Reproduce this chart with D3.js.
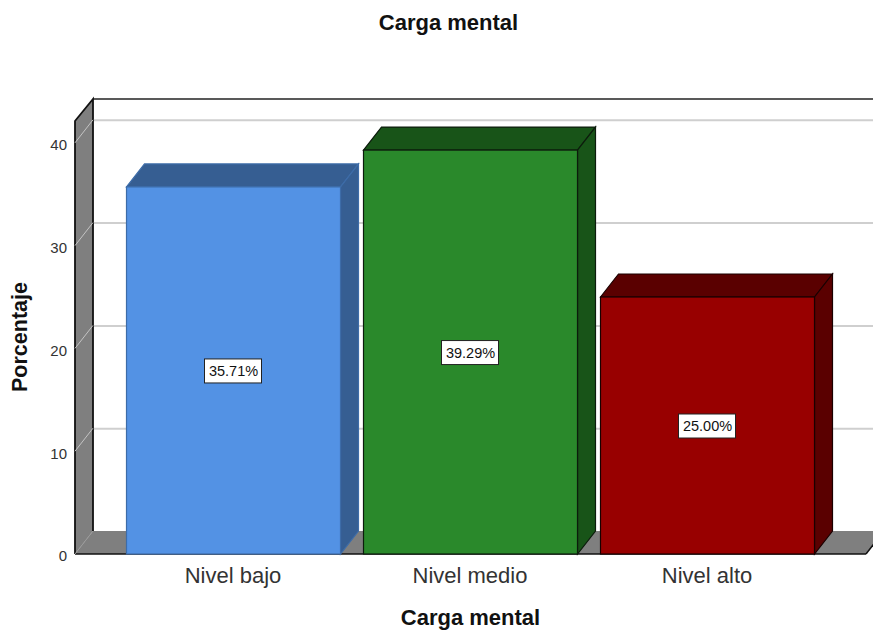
<!DOCTYPE html>
<html>
<head>
<meta charset="utf-8">
<script src="https://cdn.jsdelivr.net/npm/d3@7"></script>
<style>
  html, body { margin: 0; padding: 0; background: #fff; }
  svg { display: block; font-family: "Liberation Sans", Arial, sans-serif; }
</style>
</head>
<body>
<svg id="chart" width="873" height="630"></svg>
<script>
// Distribution of mental workload levels
const categories = ["Nivel bajo", "Nivel medio", "Nivel alto"];
const percentages = [35.71, 39.29, 25.00];
const frontColors = ["#5392e4", "#2a892b", "#980000"];
const sideColors = ["#365e92", "#185418", "#5a0000"];
const edgeColors = ["#3d6ca8", "#0c1c0c", "#1a0000"];
const yTicks = [0, 10, 20, 30, 40];
const chartTitle = "Carga mental";
const xTitle = "Carga mental";
const yTitle = "Porcentaje";

const W = 873, H = 630;
const depthX = 18, depthY = 23;       // oblique offset of the 3D projection
const left = 75, right = 866, base = 554, pxPerTen = 102.8;

const svg = d3.select("#chart");

const x = d3.scaleBand()
  .domain(categories)
  .range([left, right])
  .paddingInner(23 / 237)
  .paddingOuter(51.5 / 237);

const y = d3.scaleLinear()
  .domain([0, 40])
  .range([base, base - 4 * pxPerTen]);

const poly = pts => pts.map(p => p.join(",")).join(" ");
const plot = svg.append("g");

// Back wall gridlines
plot.selectAll("line.grid")
  .data(yTicks.slice(1))
  .join("line")
  .attr("class", "grid")
  .attr("x1", left + depthX).attr("x2", W)
  .attr("y1", d => y(d) - depthY + 0.5).attr("y2", d => y(d) - depthY + 0.5)
  .attr("stroke", "#cfcfcf").attr("stroke-width", 2);

// Top and back edges of the frame
plot.append("line")
  .attr("x1", left + depthX).attr("x2", W)
  .attr("y1", 99).attr("y2", 99)
  .attr("stroke", "#222").attr("stroke-width", 1.5);

// Floor
plot.append("polygon")
  .attr("points", poly([[left, base], [left + depthX, base - depthY], [W + 20, base - depthY], [right + 20, base - depthY], [right, base]]))
  .attr("fill", "#7f7f7f");
plot.append("line")
  .attr("x1", left).attr("x2", right)
  .attr("y1", base).attr("y2", base)
  .attr("stroke", "#111").attr("stroke-width", 1.5);
plot.append("line")
  .attr("x1", right).attr("x2", right + depthX)
  .attr("y1", base).attr("y2", base - depthY)
  .attr("stroke", "#111").attr("stroke-width", 1.5);

// Left wall
plot.append("polygon")
  .attr("points", poly([[left, base], [left, 121], [left + depthX, 99], [left + depthX, base - depthY]]))
  .attr("fill", "#7f7f7f");
plot.append("polyline")
  .attr("points", poly([[left, base], [left, 121], [left + depthX, 99], [left + depthX, base - depthY]]))
  .attr("fill", "none").attr("stroke", "#111").attr("stroke-width", 1.8);

// Gridline traces across the wall
plot.selectAll("line.wall")
  .data(yTicks)
  .join("line")
  .attr("class", "wall")
  .attr("x1", left).attr("x2", left + depthX)
  .attr("y1", d => y(d)).attr("y2", d => y(d) - depthY)
  .attr("stroke", d => d === 0 ? "#9a9a9a" : "#c4c4c4").attr("stroke-width", 1);

// Bars: top face, side face, front face
const bars = plot.selectAll("g.bar")
  .data(categories.map((c, i) => ({ c, v: percentages[i], i })))
  .join("g")
  .attr("class", "bar");

bars.append("polygon")
  .attr("points", d => {
    const a = x(d.c), b = a + x.bandwidth(), t = y(d.v);
    return poly([[a, t], [a + depthX, t - depthY], [b + depthX, t - depthY], [b, t]]);
  })
  .attr("fill", d => sideColors[d.i]).attr("stroke", d => edgeColors[d.i]).attr("stroke-width", 1.2);

bars.append("polygon")
  .attr("points", d => {
    const b = x(d.c) + x.bandwidth(), t = y(d.v);
    return poly([[b, t], [b + depthX, t - depthY], [b + depthX, base - depthY], [b, base]]);
  })
  .attr("fill", d => sideColors[d.i]).attr("stroke", d => edgeColors[d.i]).attr("stroke-width", 1.2);

bars.append("rect")
  .attr("x", d => x(d.c)).attr("width", x.bandwidth())
  .attr("y", d => y(d.v)).attr("height", d => base - y(d.v))
  .attr("fill", d => frontColors[d.i]).attr("stroke", d => edgeColors[d.i]).attr("stroke-width", 1.2);

// Value labels
const boxW = 57, boxH = 24;
bars.append("rect")
  .attr("x", d => x(d.c) + x.bandwidth() / 2 - boxW / 2 - 0.5)
  .attr("y", d => (y(d.v) + base) / 2 - boxH / 2 + 0.5)
  .attr("width", boxW).attr("height", boxH)
  .attr("fill", "#fff").attr("stroke", "#222").attr("stroke-width", 1);
bars.append("text")
  .attr("x", d => x(d.c) + x.bandwidth() / 2)
  .attr("y", d => (y(d.v) + base) / 2 + 5.5)
  .attr("text-anchor", "middle")
  .attr("font-size", 14.5).attr("fill", "#111")
  .text(d => d.v.toFixed(2) + "%");

// Axes
const yAxis = d3.axisLeft(y).tickValues(yTicks).tickSize(0).tickPadding(8);
svg.append("g").attr("transform", `translate(${left},2)`).call(yAxis)
  .call(g => g.select(".domain").remove())
  .call(g => g.selectAll("text")
    .attr("font-family", "'Liberation Sans', Arial, sans-serif")
    .attr("font-size", 15).attr("fill", "#333"));

const xAxis = d3.axisBottom(x).tickSize(0).tickPadding(13);
svg.append("g").attr("transform", `translate(-0.5,${base})`).call(xAxis)
  .call(g => g.select(".domain").remove())
  .call(g => g.selectAll("text")
    .attr("font-family", "'Liberation Sans', Arial, sans-serif")
    .attr("font-size", 22).attr("fill", "#333"));

// Titles
svg.append("text").attr("x", 448.5).attr("y", 30)
  .attr("text-anchor", "middle").attr("font-size", 22).attr("font-weight", "bold").attr("fill", "#111")
  .text(chartTitle);
svg.append("text").attr("x", 470.5).attr("y", 625)
  .attr("text-anchor", "middle").attr("font-size", 22).attr("font-weight", "bold").attr("fill", "#111")
  .text(xTitle);
svg.append("text").attr("transform", "translate(27,337) rotate(-90)")
  .attr("text-anchor", "middle").attr("font-size", 21.5).attr("font-weight", "bold").attr("fill", "#111")
  .text(yTitle);
</script>
</body>
</html>
